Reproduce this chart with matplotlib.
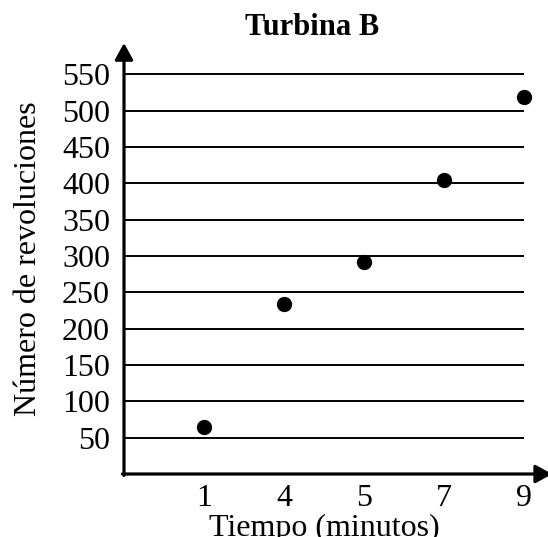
import matplotlib
matplotlib.use("Agg")
import matplotlib.pyplot as plt

# data
tiempo = ["1", "4", "5", "7", "9"]
revoluciones = [65, 234, 292, 404, 519]
y_ticks = [50, 100, 150, 200, 250, 300, 350, 400, 450, 500, 550]

plt.rcParams["font.family"] = ["Liberation Serif", "DejaVu Serif"]

fig = plt.figure(figsize=(5.48, 5.37), dpi=100)
ax = fig.add_axes([0.2263, 0.1173, 0.774, 0.8026])

pos = list(range(1, len(tiempo) + 1))
ax.set_xlim(0, 5.3)
ax.set_ylim(0, 593)

# horizontal grid lines, ending at the last category
ax.hlines(y_ticks, 0, pos[-1], color="black", lw=1.4, zorder=1)

ax.plot(pos, revoluciones, "o", color="black", markersize=10, zorder=3)

for s in ax.spines.values():
    s.set_visible(False)

# axes with arrow heads
arrow = dict(arrowstyle="-|>,head_length=1.0,head_width=0.55", color="black",
             lw=2.3, shrinkA=0, shrinkB=0)
ax.annotate("", xy=(0, 593), xytext=(0, -2), xycoords="data",
            arrowprops=arrow, annotation_clip=False)
ax.annotate("", xy=(5.35, 0), xytext=(-0.02, 0), xycoords="data",
            arrowprops=arrow, annotation_clip=False)

ax.set_xticks(pos)
ax.set_xticklabels(tiempo)
ax.set_yticks(y_ticks)
ax.tick_params(length=0, labelsize=23)
ax.tick_params(axis="y", pad=10)
ax.tick_params(axis="x", pad=7)

ax.text(2.5, -85, "Tiempo (minutos)", ha="center", va="baseline", fontsize=23,
        clip_on=False)
ax.set_ylabel("Número de revoluciones", fontsize=23, labelpad=14)
ax.text(2.35, 604, "Turbina B", ha="center", va="baseline", fontsize=22,
        fontweight="bold")

fig.savefig("out.png", dpi=100)
